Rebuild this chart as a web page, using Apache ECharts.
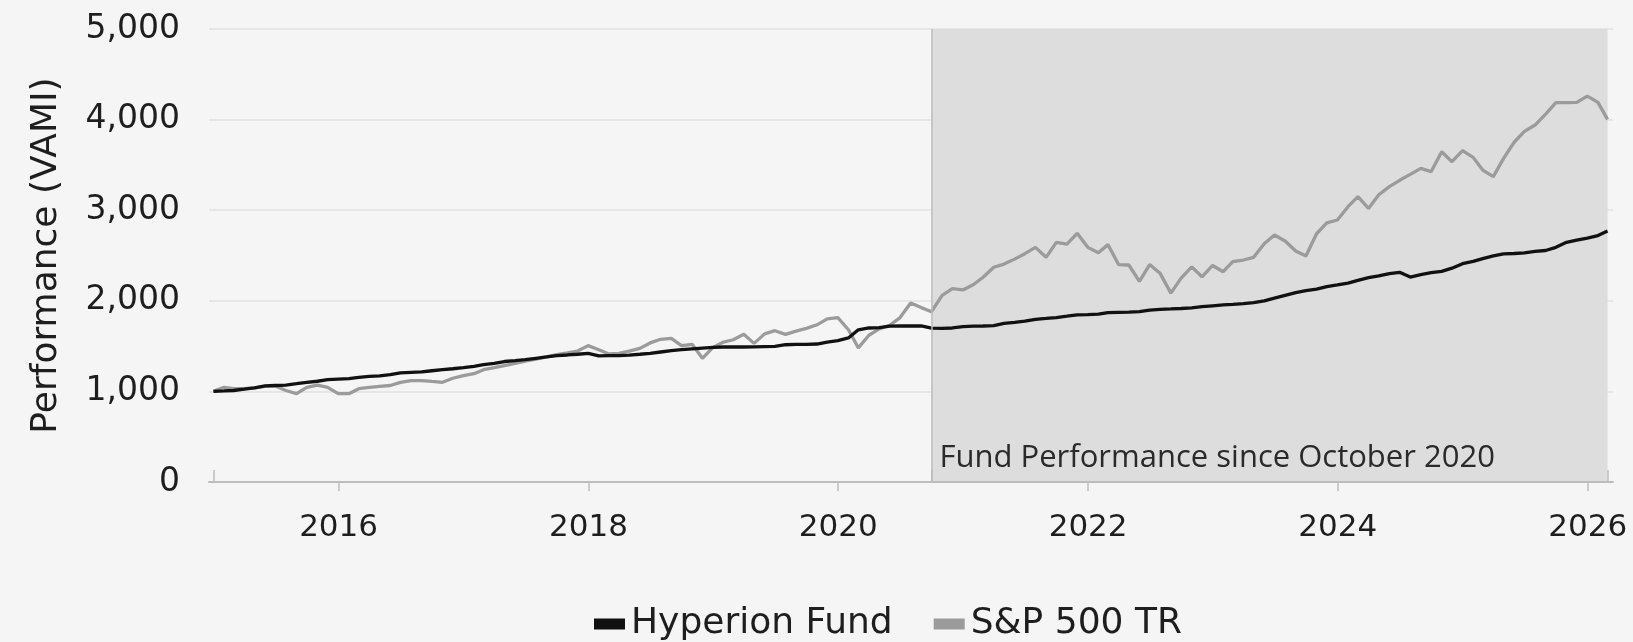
<!DOCTYPE html>
<html>
<head>
<meta charset="utf-8">
<script src="https://cdn.jsdelivr.net/npm/echarts@6/dist/echarts.min.js"></script>
<style>
  html, body { margin: 0; padding: 0; background: #f5f5f5; }
  #chart { width: 1633px; height: 642px; }
</style>
</head>
<body>
<div id="chart"></div>
<script>
// month-end values, Dec 2014 .. Feb 2026
var firstYear = 2015;
var monthCount = 135;

var hyperion = [
  1000, 1005, 1010, 1025, 1040, 1060, 1065, 1070, 1085, 1100, 1112, 1130,
  1135, 1140, 1155, 1165, 1172, 1185, 1205, 1210, 1215, 1228, 1240, 1250,
  1262, 1275, 1295, 1310, 1330, 1340, 1350, 1365, 1380, 1395, 1402, 1410,
  1420, 1392, 1395, 1395, 1400, 1410, 1420, 1435, 1450, 1462, 1470, 1478,
  1485, 1490, 1490, 1490, 1492, 1495, 1498, 1515, 1518, 1520, 1523, 1545,
  1560, 1590, 1680, 1700, 1705, 1720, 1722, 1722, 1722, 1698, 1696, 1700,
  1715, 1720, 1722, 1725, 1750, 1762, 1775, 1796, 1805, 1815, 1830, 1845,
  1848, 1852, 1869, 1873, 1876, 1880, 1898, 1905, 1910, 1915, 1922, 1935,
  1945, 1955, 1960, 1968, 1980, 2000, 2030, 2060, 2090, 2112, 2130, 2156,
  2175, 2195, 2225, 2255, 2275, 2300, 2315, 2262, 2290, 2310, 2325, 2360,
  2410, 2435, 2465, 2495, 2518, 2522, 2530, 2545, 2555, 2590, 2645, 2670,
  2692, 2720, 2770
];

var sp500 = [
  1000, 1045, 1030, 1030, 1040, 1055, 1060, 1010, 975, 1045, 1070, 1045,
  975, 975, 1030, 1045, 1055, 1065, 1100, 1120, 1120, 1110, 1100, 1145,
  1175, 1195, 1240, 1262, 1285, 1310, 1335, 1355, 1380, 1405, 1425, 1445,
  1505, 1460, 1415, 1420, 1445, 1475, 1535, 1575, 1585, 1505, 1520, 1365,
  1485, 1545, 1570, 1630, 1530, 1635, 1670, 1630, 1665, 1695, 1735, 1800,
  1815, 1680, 1480, 1620, 1690, 1730, 1815, 1975, 1925, 1880, 2060, 2135,
  2120, 2180, 2260, 2370, 2405, 2460, 2520, 2590, 2480, 2645, 2625, 2745,
  2590, 2530, 2620, 2400, 2395, 2215, 2400, 2300, 2085, 2250, 2375, 2265,
  2390, 2321, 2432, 2450, 2480, 2630, 2726, 2660, 2550, 2494, 2740, 2860,
  2892, 3039, 3149, 3020, 3170, 3260, 3330, 3395, 3461, 3425, 3645, 3535,
  3657, 3583, 3443, 3370, 3572, 3750, 3870, 3940, 4060, 4187, 4187, 4190,
  4260, 4190, 4003
];

var yearTicks = [2016, 2018, 2020, 2022, 2024, 2026];
var yTicks = [0, 1000, 2000, 3000, 4000, 5000];
var periodStart = '2020-09-30';
var periodLabel = 'Fund Performance since October 2020';
var seriesNames = ['Hyperion Fund', 'S&P 500 TR'];

var DAY = 86400000;
function monthEnd(k) { return Date.UTC(firstYear, k, 0); }
function ts(s) { var p = s.split('-'); return Date.UTC(+p[0], +p[1] - 1, +p[2]); }

var dates = [];
for (var k = 0; k < monthCount; k++) dates.push(monthEnd(k));
var firstDate = dates[0];
var lastDate = dates[dates.length - 1];
var xMin = firstDate - 13 * DAY;
var xMax = lastDate + 16 * DAY;
var yearStarts = yearTicks.map(function (y) { return Date.UTC(y, 0, 1); });

var chart = echarts.init(document.getElementById('chart'));
var txt = '#1e1e1e';
var font = 'DejaVu Sans';

var option = {
  backgroundColor: '#f5f5f5',
  animation: false,
  grid: { left: 209, right: 20, top: 29, bottom: 160 },
  legend: {
    data: seriesNames,
    left: 594,
    top: 606,
    padding: 0,
    icon: 'rect',
    itemWidth: 31,
    itemHeight: 11,
    itemGap: 41,
    textStyle: { fontFamily: font, fontSize: 36, color: txt, padding: [0, 0, 0, 1] }
  },
  xAxis: [{
    type: 'value',
    min: xMin,
    max: xMax,
    z: 1,
    axisLine: { lineStyle: { color: '#bdbdbd', width: 2 } },
    axisTick: {
      show: true, length: 9, lineStyle: { color: '#bdbdbd', width: 1.5 },
      customValues: yearStarts
    },
    axisLabel: {
      margin: 30,
      fontFamily: font, fontSize: 31, color: txt,
      customValues: yearStarts,
      formatter: function (v) { return String(new Date(v).getUTCFullYear()); }
    },
    splitLine: { show: false }
  }, {
    type: 'value',
    min: xMin,
    max: xMax,
    position: 'bottom',
    z: 1,
    axisLine: { show: false },
    axisLabel: { show: false },
    axisTick: {
      show: true, inside: true, length: 12, lineStyle: { color: '#bdbdbd', width: 1.5 },
      customValues: [firstDate, ts(periodStart), lastDate]
    },
    splitLine: { show: false }
  }],
  yAxis: {
    type: 'value',
    min: yTicks[0],
    max: yTicks[yTicks.length - 1],
    interval: 1000,
    z: 1,
    name: 'Performance (VAMI)',
    nameLocation: 'middle',
    nameGap: 144,
    nameTextStyle: { fontFamily: font, fontSize: 36, color: txt },
    axisLine: { show: false },
    axisTick: { show: false },
    axisLabel: {
      margin: 29,
      fontFamily: font, fontSize: 33, color: txt,
      formatter: function (v) { return v.toLocaleString('en-US'); }
    },
    splitLine: { lineStyle: { color: '#e6e6e6', width: 2 } }
  },
  series: [{
    // invisible host for the shaded period, kept under the grid lines
    type: 'line',
    z: 0,
    silent: true,
    showSymbol: false,
    lineStyle: { opacity: 0 },
    data: dates.map(function (d, i) { return [d, hyperion[i]]; }),
    markArea: {
      silent: true,
      itemStyle: { color: '#dddddd' },
      label: {
        show: true,
        position: 'insideBottomLeft',
        distance: 8,
        formatter: periodLabel,
        fontFamily: 'Open Sans', fontSize: 31, color: '#2a2a2a'
      },
      data: [[{ xAxis: ts(periodStart), name: periodLabel }, { xAxis: lastDate }]]
    },
    markLine: {
      silent: true,
      symbol: 'none',
      label: { show: false },
      lineStyle: { color: '#bcbcbc', width: 1.5, type: 'solid' },
      data: [{ xAxis: ts(periodStart) }]
    }
  }, {
    name: seriesNames[1],
    type: 'line',
    z: 2,
    showSymbol: false,
    color: '#9b9b9b',
    lineStyle: { width: 3.3, color: '#9b9b9b' },
    data: dates.map(function (d, i) { return [d, sp500[i]]; })
  }, {
    name: seriesNames[0],
    type: 'line',
    z: 3,
    showSymbol: false,
    color: '#111111',
    lineStyle: { width: 3.3, color: '#111111' },
    data: dates.map(function (d, i) { return [d, hyperion[i]]; })
  }]
};

chart.setOption(option);
</script>
</body>
</html>
